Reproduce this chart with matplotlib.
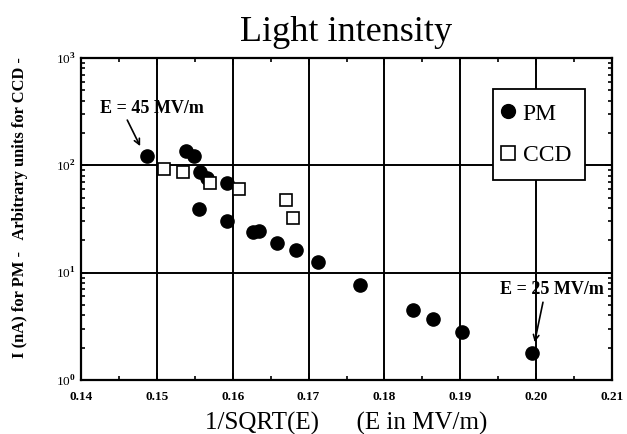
import matplotlib
matplotlib.use("Agg")
import matplotlib.pyplot as plt
from matplotlib.ticker import FixedLocator, FixedFormatter, LogLocator, MultipleLocator

plt.rcParams['font.family'] = ['Liberation Serif', 'DejaVu Serif']
plt.rcParams['mathtext.fontset'] = 'custom'
plt.rcParams['mathtext.rm'] = 'Liberation Serif:bold'
plt.rcParams['mathtext.bf'] = 'Liberation Serif:bold'

# Data
pm_x = [0.1487, 0.1539, 0.1549, 0.1557, 0.1566, 0.1592, 0.1556, 0.1592,
        0.1627, 0.1635, 0.1658, 0.1683, 0.1713, 0.1768, 0.1838, 0.1864,
        0.1902, 0.1995]
pm_y = [122, 137, 123, 87, 76, 69, 39, 30.5, 23.8, 24.6, 19, 16.2, 12.6,
        7.7, 4.5, 3.7, 2.8, 1.8]
ccd_x = [0.1509, 0.1535, 0.1570, 0.1608, 0.1670, 0.1680]
ccd_y = [92.5, 87, 68, 60, 48, 32]

x_ticks = [0.14, 0.15, 0.16, 0.17, 0.18, 0.19, 0.20, 0.21]
x_labels = ['0.14', '0.15', '0.16', '0.17', '0.18', '0.19', '0.20', '0.21']
y_ticks = [1, 10, 100, 1000]
y_labels = ['10$^{0}$', '10$^{1}$', '10$^{2}$', '10$^{3}$']

fig = plt.figure(figsize=(6.27, 4.34), dpi=100)
ax = fig.add_axes([81 / 627, 54 / 434, 531 / 627, 322 / 434])

ax.plot(pm_x, pm_y, 'o', color='black', markersize=9.5, label='PM', zorder=3)
ax.plot(ccd_x, ccd_y, 's', markerfacecolor='white', markeredgecolor='black',
        markeredgewidth=1.2, markersize=9, label='CCD', zorder=3)

ax.set_yscale('log')
ax.set_xlim(0.14, 0.21)
ax.set_ylim(1, 1000)
ax.xaxis.set_major_locator(FixedLocator(x_ticks))
ax.xaxis.set_major_formatter(FixedFormatter(x_labels))
ax.xaxis.set_minor_locator(MultipleLocator(0.005))
ax.yaxis.set_major_locator(FixedLocator(y_ticks))
ax.yaxis.set_major_formatter(FixedFormatter(y_labels))
ax.yaxis.set_minor_locator(LogLocator(base=10, subs=range(2, 10)))
ax.yaxis.set_minor_formatter(FixedFormatter([]))

ax.tick_params(which='both', direction='in', top=True, right=True, width=1.2)
ax.tick_params(which='major', length=5)
ax.tick_params(which='minor', length=3)
ax.tick_params(axis='both', labelsize=9.5)
ax.tick_params(axis='x', pad=8)
ax.tick_params(axis='y', pad=4)
for lab in ax.get_xticklabels():
    lab.set_fontweight('bold')
for sp in ax.spines.values():
    sp.set_linewidth(1.6)

ax.grid(True, which='major', color='black', linewidth=1.4)
ax.set_axisbelow(True)

ax.set_title('Light intensity', fontsize=26, pad=12)
ax.set_xlabel('1/SQRT(E)      (E in MV/m)', fontsize=18, labelpad=6)
ax.set_ylabel('I (nA) for PM -   Arbitrary units for CCD -', fontsize=11.9,
              fontweight='bold')
ax.yaxis.set_label_coords(-0.100, 0.534)

# annotations
ax.text(0.1425, 342, 'E = 45 MV/m', fontsize=13, fontweight='bold',
        va='center', ha='left')
ax.annotate('', xy=(0.1478, 151), xytext=(0.1461, 264),
            arrowprops=dict(arrowstyle='->', color='black', lw=1.2,
                            shrinkA=0, shrinkB=0))
ax.text(0.1953, 7.0, 'E = 25 MV/m', fontsize=13, fontweight='bold',
        va='center', ha='left')
ax.annotate('', xy=(0.1998, 2.25), xytext=(0.2009, 5.3),
            arrowprops=dict(arrowstyle='->', color='black', lw=1.2,
                            shrinkA=0, shrinkB=0))

leg = ax.legend(loc='upper left', bbox_to_anchor=(0.776, 0.904), fancybox=False,
                edgecolor='black', framealpha=1, fontsize=17, handlelength=0.1,
                handletextpad=0.55, labelspacing=0.85, borderpad=0.6,
                borderaxespad=0, markerscale=1.05)
leg.get_frame().set_linewidth(1.3)

fig.savefig('out.png', dpi=100)
